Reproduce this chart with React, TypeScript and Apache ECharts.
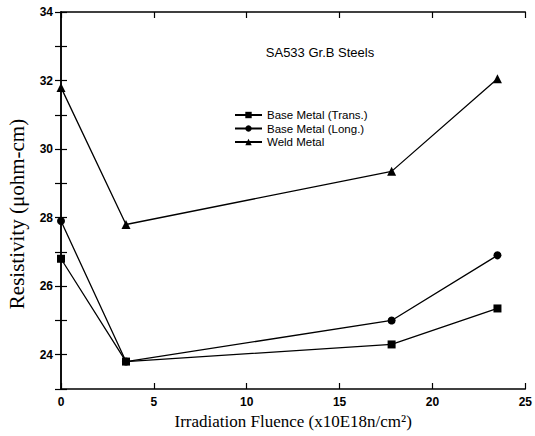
import React, { useEffect, useRef } from "react";
import * as echarts from "echarts";

const fluence = [0, 3.5, 17.8, 23.5];
const baseTrans = [26.8, 23.8, 24.3, 25.35];
const baseLong = [27.9, 23.8, 25.0, 26.9];
const weld = [31.8, 27.8, 29.35, 32.05];
const seriesNames = ["Base Metal (Trans.)", "Base Metal (Long.)", "Weld Metal"];
const symbols = ["rect", "circle", "triangle"];

export default function App() {
  const ref = useRef<HTMLDivElement>(null);
  useEffect(() => {
    if (!ref.current) return;
    const chart = echarts.init(ref.current, undefined, { renderer: "svg" });
    const values = [baseTrans, baseLong, weld];
    const axisLine = { lineStyle: { color: "#000", width: 1.5 } };
    const labelFont = { fontFamily: "Liberation Sans", fontWeight: "bold" as const, fontSize: 12, color: "#000" };
    chart.setOption({
      animation: false,
      backgroundColor: "#fff",
      title: {
        text: "SA533 Gr.B Steels",
        left: 315,
        top: 41,
        textAlign: "center",
        textStyle: { fontFamily: "Liberation Sans", fontSize: 13, fontWeight: "normal", color: "#000" },
      },
      legend: {
        orient: "vertical",
        left: 234,
        top: 109,
        padding: 0,
        itemWidth: 27,
        itemHeight: 8,
        itemGap: 1.5,
        data: seriesNames,
        textStyle: { fontFamily: "Liberation Sans", fontSize: 11.5, color: "#000" },
      },
      graphic: [
        {
          type: "text",
          x: 17,
          y: 214,
          rotation: Math.PI / 2,
          style: {
            text: "Resistivity (μohm-cm)",
            fontFamily: "Liberation Serif",
            fontSize: 21,
            fill: "#000",
            textAlign: "center",
            textVerticalAlign: "middle",
          },
        },
      ],
      grid: { left: 61, right: 7, top: 12, bottom: 47, containLabel: false },
      xAxis: [
        {
          type: "value",
          min: 0,
          max: 25,
          interval: 5,
          axisLine,
          axisTick: { inside: true, length: 6, lineStyle: { color: "#000", width: 1.2 } },
          axisLabel: { ...labelFont, margin: 7 },
          splitLine: { show: false },
          name: "Irradiation Fluence (x10E18n/cm²)",
          nameLocation: "middle",
          nameGap: 24,
          nameTextStyle: { fontFamily: "Liberation Serif", fontSize: 17, color: "#000" },
        },
        {
          type: "value",
          position: "top",
          min: 0,
          max: 25,
          interval: 5,
          axisLine,
          axisTick: { inside: true, length: 6, lineStyle: { color: "#000", width: 1.2 } },
          axisLabel: { show: false },
          splitLine: { show: false },
        },
      ],
      yAxis: [
        {
          type: "value",
          min: 23,
          max: 34,
          interval: 1,
          axisLine,
          axisTick: { inside: true, length: 6, lineStyle: { color: "#000", width: 1.2 } },
          axisLabel: {
            ...labelFont,
            margin: 8,
            formatter: (v: number) => (v % 2 === 0 ? String(v) : ""),
          },
          splitLine: { show: false },
        },
        {
          type: "value",
          position: "right",
          min: 23,
          max: 34,
          interval: 1,
          axisLine,
          axisTick: { inside: true, length: 6, lineStyle: { color: "#000", width: 1.2 } },
          axisLabel: { show: false },
          splitLine: { show: false },
        },
      ],
      series: seriesNames.map((name, i) => ({
        name,
        type: "line",
        xAxisIndex: 0,
        yAxisIndex: 0,
        data: fluence.map((x, j) => [x, values[i][j]]),
        symbol: symbols[i],
        symbolSize: symbols[i] === "triangle" ? 9 : 8,
        showAllSymbol: true,
        itemStyle: { color: "#000" },
        lineStyle: { color: "#000", width: 1.3 },
      })),
    });
    return () => chart.dispose();
  }, []);
  return <div ref={ref} style={{ width: 535, height: 436, position: "absolute", left: 0, top: 0 }} />;
}
